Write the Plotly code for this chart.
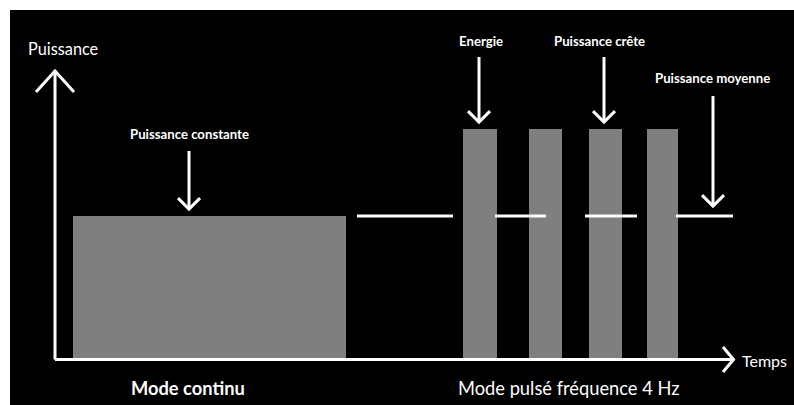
import plotly.graph_objects as go

# ---- data (time in arbitrary units, power relative to continuous power) ----
cont_start = [1.8]
cont_end = [29.1]
cont_power = [1.0]

pulse_start = [40.8, 47.4, 53.4, 59.2]
pulse_end = [44.2, 50.7, 56.7, 62.3]
pulse_power = [1.613, 1.613, 1.613, 1.613]

mean_start = [30.2, 44.0, 53.0, 62.1]
mean_end = [39.8, 49.1, 58.2, 67.8]
mean_power = [1.0, 1.0, 1.0, 1.0]

# down arrows: x, top, tip
arrow_x = [13.4, 42.4, 54.9, 65.8]
arrow_top = [1.458, 2.120, 2.120, 1.845]
arrow_tip = [1.049, 1.662, 1.662, 1.070]

# labels
label_text = ["Puissance constante", "Energie", "Puissance crête", "Puissance moyenne"]
label_x = [13.4, 42.6, 54.4, 65.7]
label_y = [1.577, 2.232, 2.232, 1.972]

axis_title_y = "Puissance"
axis_title_x = "Temps"
mode_text = ["<b>Mode continu</b>", "Mode pulsé fréquence 4 Hz"]
mode_x = [13.3, 51.3]
mode_y = [-0.211, -0.211]

# axes extents
x_axis_end = 67.85
y_axis_end = 2.021
origin_y = -0.011

XR = [-4.5, 73.9]
YR = [-0.331, 2.451]

WHITE = "#ffffff"
GRAY = "#7f7f7f"
FONT = "Lato"

fig = go.Figure()

# continuous block
fig.add_trace(go.Bar(
    x=[(s + e) / 2 for s, e in zip(cont_start, cont_end)],
    y=cont_power,
    width=[e - s for s, e in zip(cont_start, cont_end)],
    marker=dict(color=GRAY, line=dict(width=0)),
    hoverinfo="skip",
))
# pulses
fig.add_trace(go.Bar(
    x=[(s + e) / 2 for s, e in zip(pulse_start, pulse_end)],
    y=pulse_power,
    width=[e - s for s, e in zip(pulse_start, pulse_end)],
    marker=dict(color=GRAY, line=dict(width=0)),
    hoverinfo="skip",
))

# mean power segments
mx, my = [], []
for s, e, p in zip(mean_start, mean_end, mean_power):
    mx += [s, e, None]
    my += [p, p, None]
fig.add_trace(go.Scatter(x=mx, y=my, mode="lines",
                         line=dict(color=WHITE, width=3), hoverinfo="skip"))

# axes with open arrowheads
hw = 1.9   # arrowhead half width (time units) for main axes
hh = 0.148  # arrowhead height (power units) for y axis
ax_x = [0, 0, None, -hw, 0, hw]
ax_y = [origin_y, y_axis_end, None, y_axis_end - hh, y_axis_end, y_axis_end - hh]
fig.add_trace(go.Scatter(x=ax_x, y=ax_y, mode="lines",
                         line=dict(color=WHITE, width=3), hoverinfo="skip"))
xh_w = 1.05
xh_h = 0.088
ax2_x = [0, x_axis_end, None, x_axis_end - xh_w, x_axis_end, x_axis_end - xh_w]
ax2_y = [origin_y, origin_y, None, origin_y + xh_h, origin_y, origin_y - xh_h]
fig.add_trace(go.Scatter(x=ax2_x, y=ax2_y, mode="lines",
                         line=dict(color=WHITE, width=3), hoverinfo="skip"))

# annotation arrows
aw = 1.1
ah = 0.077
arx, ary = [], []
for x, t, b in zip(arrow_x, arrow_top, arrow_tip):
    arx += [x, x, None, x - aw, x, x + aw, None]
    ary += [t, b, None, b + ah, b, b + ah, None]
fig.add_trace(go.Scatter(x=arx, y=ary, mode="lines",
                         line=dict(color=WHITE, width=3), hoverinfo="skip"))

annotations = []
for t, x, y in zip(label_text, label_x, label_y):
    annotations.append(dict(x=x, y=y, xref="x", yref="y", text="<b>" + t + "</b>",
                            showarrow=False, xanchor="center", yanchor="middle",
                            font=dict(family=FONT, size=13.2, color=WHITE)))
annotations.append(dict(x=-2.9, y=2.183, xref="x", yref="y", text=axis_title_y,
                        showarrow=False, xanchor="left", yanchor="middle",
                        font=dict(family=FONT, size=16.3, color=WHITE)))
annotations.append(dict(x=68.5, y=-0.021, xref="x", yref="y", text=axis_title_x,
                        showarrow=False, xanchor="left", yanchor="middle",
                        font=dict(family=FONT, size=16, color=WHITE)))
for t, x, y in zip(mode_text, mode_x, mode_y):
    annotations.append(dict(x=x, y=y, xref="x", yref="y", text=t,
                            showarrow=False, xanchor="center", yanchor="middle",
                            font=dict(family=FONT, size=18.3, color=WHITE)))

fig.update_layout(
    width=794, height=405,
    margin=dict(l=10, r=0, t=10, b=0),
    paper_bgcolor="#ffffff",
    plot_bgcolor="#000000",
    showlegend=False,
    barmode="overlay",
    xaxis=dict(range=XR, visible=False, fixedrange=True),
    yaxis=dict(range=YR, visible=False, fixedrange=True),
    annotations=annotations,
)

fig.write_html("out.html", config={"displayModeBar": False},
               post_script="document.body.style.margin='0';")
